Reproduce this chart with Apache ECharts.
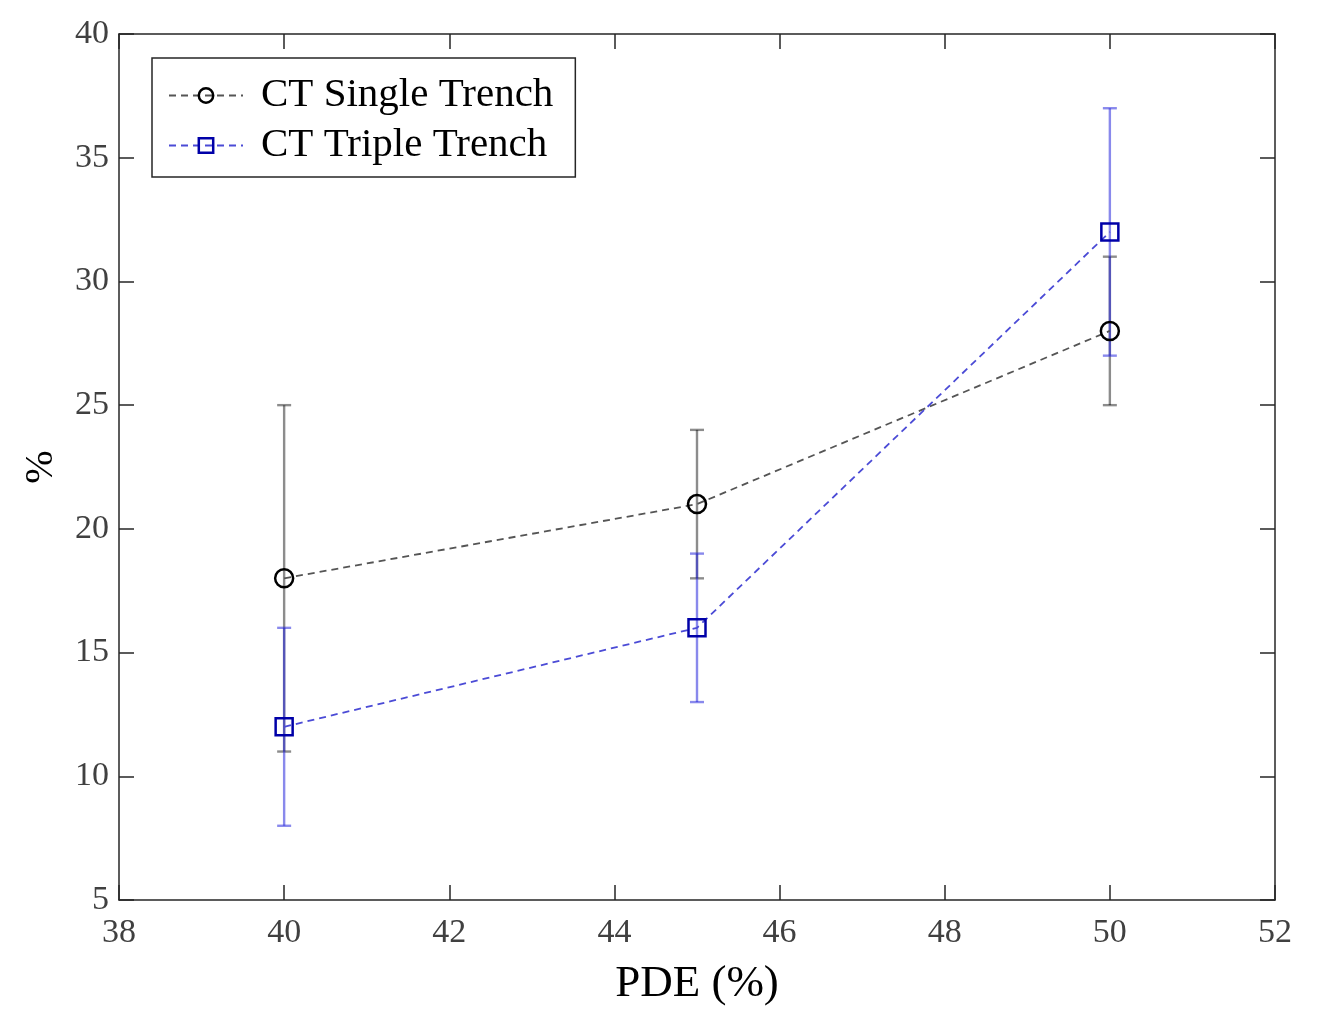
<!DOCTYPE html>
<html>
<head>
<meta charset="utf-8">
<script src="https://cdn.jsdelivr.net/npm/echarts@6/dist/echarts.min.js"></script>
<style>html,body{margin:0;padding:0;background:#fff;}#chart{width:1323px;height:1019px;}</style>
</head>
<body>
<div id="chart"></div>
<script>
var pde = [40, 45, 50];
var singleMean = [18, 21, 28];
var singleLow = [11, 18, 25];
var singleHigh = [25, 24, 31];
var tripleMean = [12, 16, 32];
var tripleLow = [8, 13, 27];
var tripleHigh = [16, 19, 37];
var xTicks = [38, 40, 42, 44, 46, 48, 50, 52];
var yTicks = [5, 10, 15, 20, 25, 30, 35, 40];

var FONT = '"Liberation Serif", "DejaVu Serif", serif';

function pts(xs, ys) { return xs.map(function (x, i) { return [x, ys[i]]; }); }
function errData(xs, lo, hi) { return xs.map(function (x, i) { return [x, lo[i], hi[i]]; }); }

function errRender(color) {
  return function (params, api) {
    var x = api.value(0);
    var lo = api.coord([x, api.value(1)]);
    var hi = api.coord([x, api.value(2)]);
    var cap = 7;
    var st = { stroke: color, lineWidth: 2.4 };
    return {
      type: 'group',
      children: [
        { type: 'line', shape: { x1: lo[0], y1: lo[1], x2: hi[0], y2: hi[1] }, style: st },
        { type: 'line', shape: { x1: lo[0] - cap, y1: lo[1], x2: lo[0] + cap, y2: lo[1] }, style: st },
        { type: 'line', shape: { x1: hi[0] - cap, y1: hi[1], x2: hi[0] + cap, y2: hi[1] }, style: st }
      ]
    };
  };
}

var axisLine = { show: true, lineStyle: { color: '#262626', width: 1.5 } };
var axisTickIn = { show: true, inside: true, length: 15, lineStyle: { color: '#262626', width: 1.5 } };

var chart = echarts.init(document.getElementById('chart'));
chart.setOption({
  animation: false,
  backgroundColor: '#fff',
  grid: { left: 119, top: 34, width: 1156, height: 866, show: false },
  legend: {
    left: 152, top: 58,
    orient: 'vertical',
    backgroundColor: '#fff',
    borderColor: '#262626', borderWidth: 1.5, borderRadius: 0,
    padding: [17, 22, 11, 16],
    itemWidth: 74, itemHeight: 18, itemGap: 9,
    itemStyle: { borderWidth: 2.5 },
    textStyle: { fontFamily: FONT, fontSize: 41, color: '#000', padding: [0, 0, 0, 13] },
    data: ['CT Single Trench', 'CT Triple Trench']
  },
  xAxis: [{
    type: 'value', min: 38, max: 52, interval: 2, position: 'bottom',
    name: 'PDE (%)', nameLocation: 'middle', nameGap: 62,
    nameTextStyle: { fontFamily: FONT, fontSize: 45, color: '#000' },
    axisLine: axisLine, axisTick: axisTickIn,
    axisLabel: { fontFamily: FONT, fontSize: 34, color: '#404040', margin: 16,
      formatter: function (v) { return xTicks.indexOf(v) >= 0 ? String(v) : ''; } },
    splitLine: { show: false }
  }, {
    type: 'value', min: 38, max: 52, interval: 2, position: 'top',
    axisLine: axisLine, axisTick: axisTickIn, axisLabel: { show: false }, splitLine: { show: false }
  }],
  yAxis: [{
    type: 'value', min: 5, max: 40, interval: 5, position: 'left',
    name: '%', nameLocation: 'middle', nameGap: 58, nameRotate: 90,
    nameTextStyle: { fontFamily: FONT, fontSize: 40, color: '#000' },
    axisLine: axisLine, axisTick: axisTickIn,
    axisLabel: { fontFamily: FONT, fontSize: 34, color: '#404040', margin: 10,
      formatter: function (v) { return yTicks.indexOf(v) >= 0 ? String(v) : ''; } },
    splitLine: { show: false }
  }, {
    type: 'value', min: 5, max: 40, interval: 5, position: 'right',
    axisLine: axisLine, axisTick: axisTickIn, axisLabel: { show: false }, splitLine: { show: false }
  }],
  series: [
    {
      type: 'custom', name: 'errSingle', data: errData(pde, singleLow, singleHigh),
      renderItem: errRender('rgba(0,0,0,0.45)'), z: 1, silent: true
    },
    {
      type: 'custom', name: 'errTriple', data: errData(pde, tripleLow, tripleHigh),
      renderItem: errRender('rgba(40,40,220,0.55)'), z: 1, silent: true
    },
    {
      type: 'line', name: 'CT Single Trench', data: pts(pde, singleMean), z: 3,
      symbol: 'circle', symbolSize: 18, showAllSymbol: true,
      lineStyle: { color: '#555', width: 1.8, type: [7, 5] },
      itemStyle: { color: 'rgba(255,255,255,0)', borderColor: '#000', borderWidth: 2.5 }
    },
    {
      type: 'line', name: 'CT Triple Trench', data: pts(pde, tripleMean), z: 3,
      symbol: 'rect', symbolSize: 17, showAllSymbol: true,
      lineStyle: { color: '#4b4bd6', width: 1.8, type: [7, 5] },
      itemStyle: { color: 'rgba(255,255,255,0)', borderColor: '#0000a8', borderWidth: 2.5 }
    }
  ]
});
</script>
</body>
</html>
